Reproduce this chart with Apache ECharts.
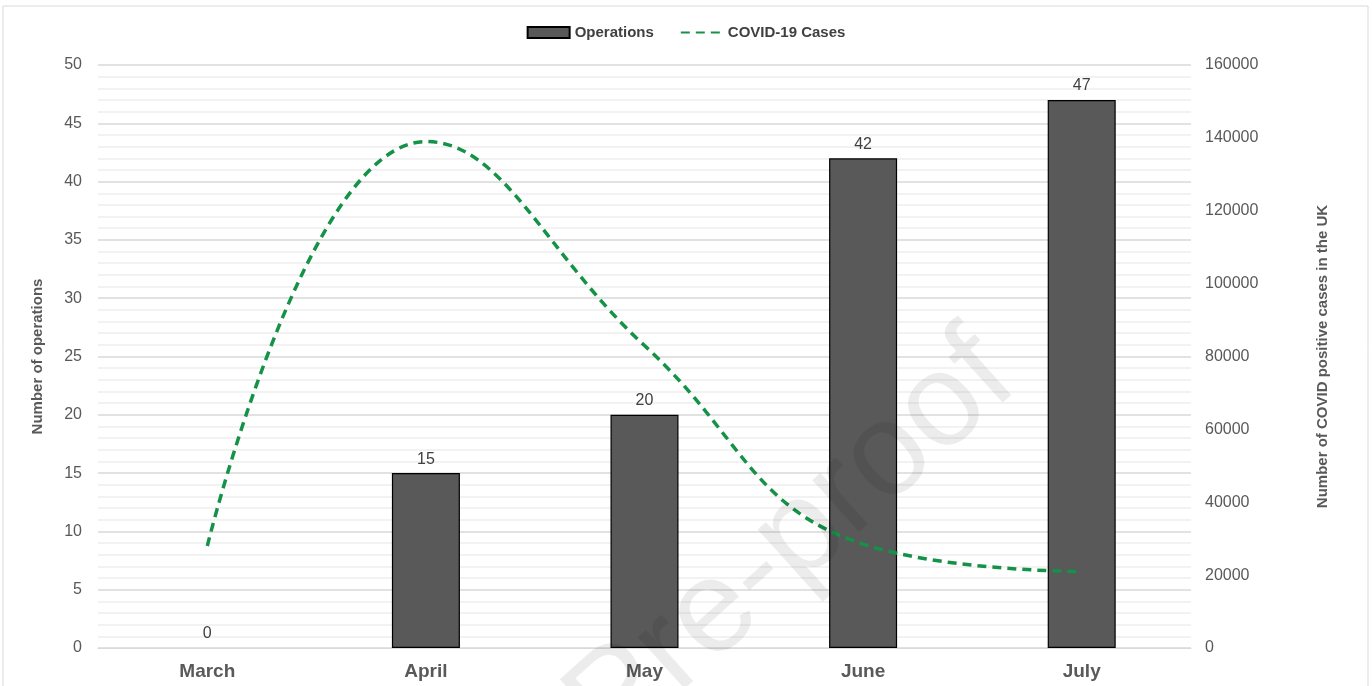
<!DOCTYPE html>
<html>
<head>
<meta charset="utf-8">
<script src="https://cdn.jsdelivr.net/npm/echarts@6/dist/echarts.min.js"></script>
<style>
html, body { margin: 0; padding: 0; background: #fff; }
#main { width: 1372px; height: 686px; }
</style>
</head>
<body>
<div id="main"></div>
<script>
// data
var months = ['March', 'April', 'May', 'June', 'July'];
var operations = [0, 15, 20, 42, 47];
var covidCases = [28000, 139000, 83000, 28500, 21000];
var leftTicks = [0, 50, 5];        // min, max, interval
var rightTicks = [0, 160000, 20000];

var chart = echarts.init(document.getElementById('main'));

// zero bar gets no outline (nothing drawn for March in the original)
var barData = operations.map(function (v) {
    return v === 0 ? { value: v, itemStyle: { borderWidth: 0 } } : v;
});

var option = {
    backgroundColor: '#fff',
    textStyle: { fontFamily: 'Arial, "Liberation Sans", sans-serif' },
    graphic: [
        {
            type: 'rect',
            shape: { x: 3, y: 6, width: 1365, height: 690 },
            style: { fill: 'none', stroke: '#d9d9d9', lineWidth: 1 },
            silent: true
        },
        {
            type: 'text',
            x: 618, y: 700,
            rotation: Math.PI * 42 / 180,
            style: {
                text: 'Journal Pre-proof',
                font: '132px Arial, "Liberation Sans", sans-serif',
                fill: 'rgba(0,0,0,0.075)',
                align: 'center',
                verticalAlign: 'middle'
            },
            z: 100,
            silent: true
        }
    ],
    legend: {
        top: 20,
        left: 'center',
        itemGap: 26,
        itemWidth: 42,
        itemHeight: 11,
        textStyle: { color: '#404040', fontSize: 15, fontWeight: 'bold' },
        data: [
            { name: 'Operations', icon: 'rect' },
            { name: 'COVID-19 Cases', itemStyle: { opacity: 0 } }
        ]
    },
    grid: { left: 98, right: 181, top: 65, bottom: 38 },
    xAxis: {
        type: 'category',
        data: months,
        axisLine: { lineStyle: { color: '#d9d9d9' } },
        axisTick: { show: false },
        axisLabel: { color: '#595959', fontSize: 19, fontWeight: 'bold', margin: 14 }
    },
    yAxis: [
        {
            type: 'value',
            min: leftTicks[0], max: leftTicks[1], interval: leftTicks[2],
            name: 'Number of operations',
            nameLocation: 'middle',
            nameGap: 53,
            nameTextStyle: { color: '#595959', fontSize: 15, fontWeight: 'bold' },
            axisLabel: { color: '#595959', fontSize: 16, margin: 16 },
            axisLine: { show: false },
            axisTick: { show: false },
            splitLine: { lineStyle: { color: '#d9d9d9', width: 1.5 } },
            minorTick: { show: false, splitNumber: 5 },
            minorSplitLine: { show: true, lineStyle: { color: '#eeeeee', width: 1.5 } }
        },
        {
            type: 'value',
            min: rightTicks[0], max: rightTicks[1], interval: rightTicks[2],
            name: 'Number of COVID positive cases in the UK',
            nameLocation: 'middle',
            nameGap: 124,
            nameRotate: 90,
            nameTextStyle: { color: '#595959', fontSize: 15, fontWeight: 'bold' },
            axisLabel: {
                color: '#595959', fontSize: 16, margin: 14,
                formatter: function (v) { return String(v); }
            },
            axisLine: { show: false },
            axisTick: { show: false },
            splitLine: { show: false }
        }
    ],
    series: [
        {
            name: 'Operations',
            type: 'bar',
            data: barData,
            barWidth: 68,
            itemStyle: { color: '#595959', borderColor: '#000', borderWidth: 1.2 },
            label: { show: true, position: 'top', color: '#404040', fontSize: 16, distance: 6 }
        },
        {
            name: 'COVID-19 Cases',
            type: 'line',
            yAxisIndex: 1,
            data: covidCases,
            smooth: 0.45,
            symbol: 'none',
            lineStyle: { color: '#149247', width: 3.5, type: [9, 6] },
            itemStyle: { color: '#149247' }
        }
    ]
};

chart.setOption(option);
</script>
</body>
</html>
